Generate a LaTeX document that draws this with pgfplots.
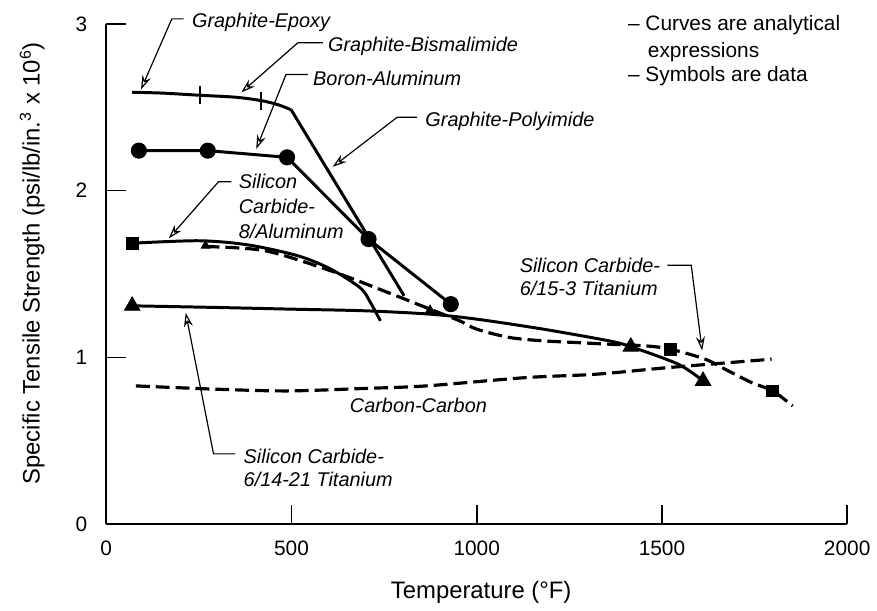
\documentclass[border=0pt]{standalone}
\usepackage{fontspec}
\setmainfont{Liberation Sans}
\usepackage{pgfplots}
\pgfplotsset{compat=1.18}
\usetikzlibrary{arrows.meta}
\begin{document}
\begin{tikzpicture}[
  ann/.style={font=\fontsize{10}{12.5}\selectfont\itshape, inner sep=0pt, anchor=west, align=left},
  lead/.style={line width=0.6pt, -{Stealth[open,length=7pt,width=4.5pt]}},
]
\begin{axis}[
  scale only axis, width=373pt, height=252pt,
  xmin=0, xmax=2000, ymin=0, ymax=3,
  axis x line*=bottom, axis y line*=left,
  axis line style={line width=1pt},
  xtick={0,500,1000,1500,2000}, ytick={0,1,2,3},
  tick align=inside, major tick length=10pt,
  every tick/.style={black, line width=0.8pt},
  clip=false,
  /pgf/number format/assume math mode=true,
  /pgf/number format/1000 sep={},
  tick label style={font=\fontsize{10.5}{12}\selectfont},
  xticklabel style={yshift=-5pt},
  yticklabel style={xshift=-6pt},
  xlabel={Temperature (°F)},
  ylabel={Specific Tensile Strength (psi/lb/in.\textsuperscript{3} x 10\textsuperscript{6})},
  label style={font=\fontsize{12}{14}\selectfont},
  xlabel style={at={(axis cs:1012,-0.446)}, anchor=base},
  ylabel style={at={(axis cs:-180,1.565)}, anchor=base},
]
% Graphite (epoxy / bismalimide / polyimide)
\addplot[line width=1.5pt, smooth] coordinates {(70,2.59) (150,2.585) (252,2.572) (350,2.56) (418,2.54) (464,2.515) (499,2.485)};
\addplot[line width=1.5pt] coordinates {(499,2.485) (804,1.37)};
\addplot[only marks, mark=|, mark size=4.5pt, mark options={line width=1pt}] coordinates {(252,2.572) (418,2.54)};
% Boron-Aluminum
\addplot[line width=1.5pt, mark=*, mark size=3.3pt] coordinates {(88,2.24) (274,2.24) (488,2.20) (708,1.71) (930,1.32)};
% Silicon Carbide-8/Aluminum
\addplot[line width=1.5pt, smooth] coordinates {(70,1.685) (250,1.70) (383,1.675) (517,1.61) (606,1.53) (686,1.417) (713,1.33) (740,1.22)};
\addplot[only marks, mark=square*, mark size=3pt] coordinates {(70,1.685)};
% Silicon Carbide-6/15-3 Titanium
\addplot[line width=1.6pt, dash pattern=on 7pt off 3pt, smooth] coordinates {(268,1.665) (429,1.64) (606,1.52) (760,1.39) (874,1.29) (954,1.22) (1000,1.17) (1089,1.12) (1180,1.10) (1268,1.09) (1357,1.08) (1456,1.07) (1523,1.05) (1617,0.99) (1679,0.92) (1742,0.85) (1799,0.80) (1853,0.71)};
\addplot[only marks, mark=square*, mark size=3pt] coordinates {(1523,1.05) (1799,0.80)};
\addplot[only marks, mark=triangle*, mark size=2.5pt] coordinates {(268,1.67) (874,1.285)};
% Silicon Carbide-6/14-21 Titanium
\addplot[line width=1.5pt, smooth] coordinates {(70,1.31) (300,1.30) (500,1.29) (700,1.28) (874,1.26) (1000,1.23) (1180,1.17) (1357,1.10) (1416,1.065) (1544,0.96) (1611,0.86)};
\addplot[only marks, mark=triangle*, mark size=4.5pt] coordinates {(70,1.31) (1416,1.065) (1611,0.86)};
% Carbon-Carbon
\addplot[line width=1.6pt, dash pattern=on 7pt off 3pt, smooth] coordinates {(80,0.83) (300,0.81) (490,0.80) (700,0.815) (863,0.83) (1134,0.88) (1322,0.90) (1518,0.94) (1796,0.99)};
\coordinate (TL) at (axis cs:-286.9,3.1429);
\path (axis cs:-286.9,3.1429) rectangle (axis cs:2064.3,-0.4821);
\end{axis}
\begin{scope}[shift={(TL)}, x=0.5pt, y=-0.5pt]
  \node[ann] at (193,23) {Graphite-Epoxy};
  \draw[lead] (185,19) -- (173,19) -- (142,90);
  \node[ann] at (330,47) {Graphite-Bismalimide};
  \draw[lead] (325,43) -- (300,43) -- (243,93);
  \node[ann] at (315,79) {Boron-Aluminum};
  \draw[lead] (310,75) -- (288,75) -- (258,150);
  \node[ann] at (428,122) {Graphite-Polyimide};
  \draw[lead] (420,118) -- (400,118) -- (335,168);
  \node[ann] at (240,183) {Silicon};
  \node[ann] at (240,208) {Carbide-};
  \node[ann] at (240,233) {8/Aluminum};
  \draw[lead] (233,183) -- (220,183) -- (170,240);
  \node[ann] at (523,267) {Silicon Carbide-};
  \node[ann] at (523,290) {6/15-3 Titanium};
  \draw[lead] (672,267) -- (696,267) -- (707,353);
  \node[ann] at (352,408) {Carbon-Carbon};
  \node[ann] at (245,460) {Silicon Carbide-};
  \node[ann] at (245,483) {6/14-21 Titanium};
  \draw[lead] (237,457) -- (215,457) -- (187,315);
  \begin{scope}[every node/.style={font=\fontsize{10.5}{13}\selectfont, inner sep=0pt, anchor=west}]
    \node at (632,25) {\textendash\ Curves are analytical};
    \node at (652,52) {expressions};
    \node at (632,77) {\textendash\ Symbols are data};
  \end{scope}
\end{scope}
\end{tikzpicture}
\end{document}
